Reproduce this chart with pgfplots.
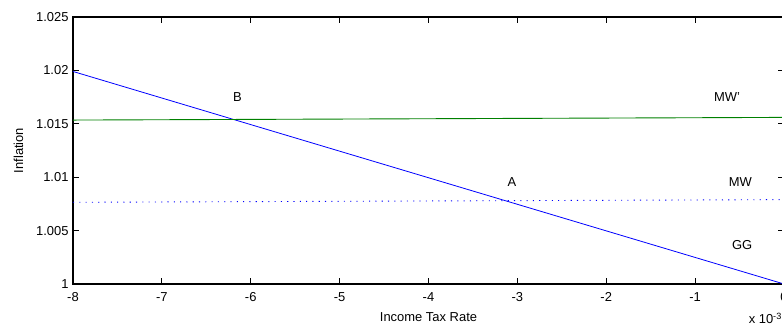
\documentclass[border=0pt]{standalone}
\usepackage{fontspec}
\setmainfont{Liberation Sans}
\usepackage{pgfplots}
\pgfplotsset{compat=1.18}
\begin{document}
\begin{tikzpicture}
\begin{axis}[
  at={(0,0)}, anchor=south west,
  scale only axis,
  width=711bp, height=267bp,
  xmin=-0.008, xmax=0, ymin=1, ymax=1.025,
  xtick={-0.008,-0.007,-0.006,-0.005,-0.004,-0.003,-0.002,-0.001,0},
  ytick={1,1.005,1.01,1.015,1.02,1.025},
  scaled x ticks=base 10:3,
  scaled y ticks=false,
  xtick scale label code/.code={x 10\textsuperscript{#1}},
  every x tick scale label/.style={at={(rel axis cs:1,0)}, anchor=north east, yshift=-24bp, xshift=-2bp, inner sep=0pt},
  /pgf/number format/assume math mode=true,
  yticklabel style={/pgf/number format/precision=3, /pgf/number format/fixed, xshift=-1bp},
  xticklabel style={yshift=-5bp},
  tick label style={font=\fontsize{13}{14}\selectfont},
  label style={font=\fontsize{13}{14}\selectfont},
  xlabel={Income Tax Rate},
  ylabel={Inflation},
  xlabel style={yshift=-4bp},
  ylabel style={yshift=6bp},
  tick align=inside,
  major tick length=6bp,
  axis line style={line width=1.1bp},
  every tick/.style={black, line width=0.8bp},
  clip=true,
]
\addplot[color=blue, line width=0.8bp] coordinates {(-0.008,1.0199) (0,1.0)};
\addplot[color={rgb,255:red,0;green,128;blue,0}, line width=0.9bp] coordinates {(-0.008,1.01535) (0,1.0156)};
\addplot[color=blue, line width=0.9bp, dash pattern=on 1.1bp off 5.2bp] coordinates {(-0.008,1.00765) (0,1.0079)};
\node[font=\fontsize{13}{14}\selectfont] at (axis cs:-0.00615,1.0175) {B};
\node[font=\fontsize{13}{14}\selectfont] at (axis cs:-0.00064,1.0175) {MW'};
\node[font=\fontsize{13}{14}\selectfont] at (axis cs:-0.00306,1.00955) {A};
\node[font=\fontsize{13}{14}\selectfont] at (axis cs:-0.00049,1.0095) {MW};
\node[font=\fontsize{13}{14}\selectfont] at (axis cs:-0.00047,1.00365) {GG};
\end{axis}
\pgfresetboundingbox
\useasboundingbox (-73bp,-43bp) rectangle (709bp,284bp);
\end{tikzpicture}
\end{document}
